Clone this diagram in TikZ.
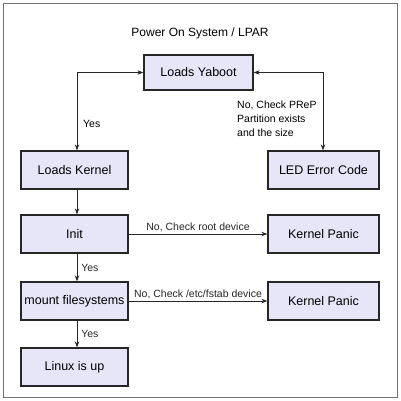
\documentclass[tikz,border=0pt]{standalone}
\usepackage{fontspec}
\setmainfont{Liberation Sans}
\usetikzlibrary{arrows.meta}
\begin{document}
\begin{tikzpicture}[x=1pt,y=-1pt,
  box/.style={draw=black!85,line width=1.3pt,fill={rgb,255:red,230;green,230;blue,248},minimum width=107pt,minimum height=38pt,inner sep=0pt,font=\fontsize{12.5}{14}\selectfont},
  conn/.style={line width=0.7pt,black!85,-{Stealth[length=6pt,width=4.5pt]}},
  lbl/.style={font=\fontsize{10.5}{14}\selectfont,inner sep=1pt}]
\useasboundingbox (0,0) rectangle (400,401);
\draw[black!55,line width=0.8pt] (3,3) rectangle (397,397);
\node[font=\fontsize{12}{14}\selectfont] (title) at (200,33) {Power On System / LPAR};
\node[box,minimum width=109pt,minimum height=35pt] (yab) at (198.5,72.5) {Loads Yaboot};
\node[box] (ker) at (74.5,170) {Loads Kernel};
\node[box,minimum width=111pt] (led) at (323.5,170) {LED Error Code};
\node[box] (init) at (74.5,234) {Init};
\node[box,minimum width=111pt] (kp1) at (323.5,234) {Kernel Panic};
\node[box] (mnt) at (74.5,301) {mount filesystems};
\node[box,minimum width=111pt] (kp2) at (323.5,301) {Kernel Panic};
\node[box] (lin) at (74.5,367) {Linux is up};
\coordinate (cl) at (77,72.5);
\coordinate (cr) at (323,72.5);
\draw[conn,{Stealth[length=6pt,width=4.5pt]}-{Stealth[length=6pt,width=4.5pt]}] (yab.west) -- (cl) -- (cl |- ker.north);
\draw[conn,{Stealth[length=6pt,width=4.5pt]}-{Stealth[length=6pt,width=4.5pt]}] (yab.east) -- (cr) -- (cr |- led.north);
\node[lbl,anchor=west] (ly1) at (82,124) {Yes};
\node[lbl,anchor=north west,align=left] (lno1) at (236,100) {No, Check PReP\\Partition exists\\and the size};
\draw[conn] (cl |- ker.south) -- (cl |- init.north);
\draw[conn] (init.east) -- (kp1.west) node[lbl,midway,above=1pt] (ln2) {No, Check root device};
\draw[conn] (cl |- init.south) -- (cl |- mnt.north) node[lbl,midway,right=3pt] (ly2) {Yes};
\draw[conn] (mnt.east) -- (kp2.west) node[lbl,midway,above=1pt] (ln3) {No, Check /etc/fstab device};
\draw[conn] (cl |- mnt.south) -- (cl |- lin.north) node[lbl,midway,right=3pt] (ly3) {Yes};
\end{tikzpicture}
\end{document}
